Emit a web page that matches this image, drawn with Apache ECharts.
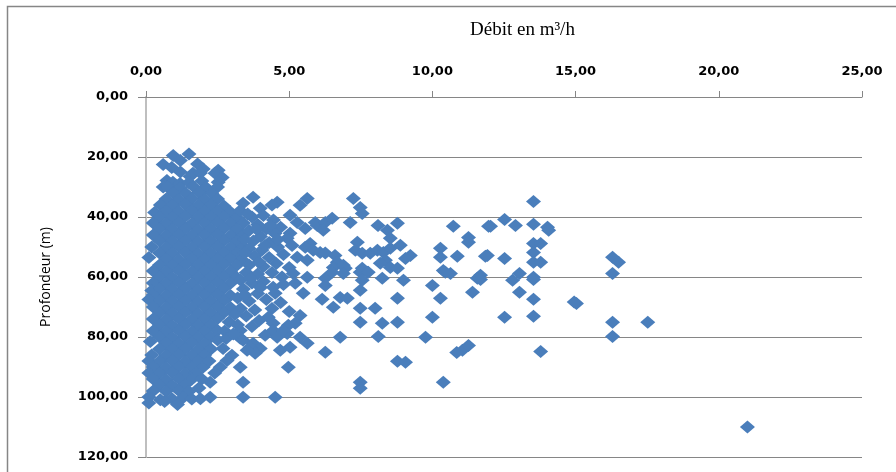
<!DOCTYPE html>
<html>
<head>
<meta charset="utf-8">
<script src="https://cdn.jsdelivr.net/npm/echarts@6/dist/echarts.min.js"></script>
<style>html,body{margin:0;padding:0;background:#fff}#c{width:896px;height:472px}</style>
</head>
<body>
<div id="c"></div>
<script>
// Axis settings / ticks
var xTicks = [0, 5, 10, 15, 20, 25];
var yTicks = [0, 20, 40, 60, 80, 100, 120];
var xTitle = 'Débit en m³/h';
var yTitle = 'Profondeur (m)';

// [débit (m3/h), profondeur (m)]
var topPoints = [[1.5,19],[0.95,19.5],[1.2,21.2],[0.6,22.5],[1.8,22.3],[0.9,23.5],[2.0,24],[2.52,24.4],[1.2,25],[2.41,25.4],[1.64,25.4],[1.54,26.5],[1.9,25.3],[2.66,26.8],[0.73,27.8],[0.94,28.4],[1.19,28.8],[2.52,28.4],[1.95,28],[1.5,28.5],[0.6,30],[2.0,31.1]];

var denseCore = [
[0.75,30],[1.2,30.3],[1.65,29.8],[2.1,30.2],[2.5,30],
[0.95,32],[1.4,32.2],[1.85,31.8],[2.3,32.1],
[0.7,34],[1.15,34.2],[1.6,33.8],[2.05,34.1],[2.5,34],
[0.5,36],[0.92,36.2],[1.37,35.8],[1.82,36.1],[2.27,36],[2.72,36.3],
[0.3,38.5],[0.7,38],[1.15,38.2],[1.6,37.9],[2.05,38.1],[2.5,38],[2.95,38.3],
[0.47,40],[0.92,40.2],[1.37,39.8],[1.82,40.1],[2.27,40],[2.72,39.9],[3.17,40.2],
[0.25,42],[0.7,42.1],[1.15,41.9],[1.6,42.2],[2.05,42],[2.5,41.8],[2.95,42.1],[3.4,42],
[0.47,44],[0.92,44.1],[1.37,43.9],[1.82,44.2],[2.27,44],[2.72,43.8],[3.17,44.1],
[0.25,46],[0.7,46.2],[1.15,45.9],[1.6,46.1],[2.05,46],[2.5,45.8],[2.95,46.2],[3.4,46],
[0.47,48],[0.92,48.1],[1.37,47.9],[1.82,48.2],[2.27,48],[2.72,47.9],[3.17,48.1],
[0.2,50],[0.7,50.2],[1.15,49.9],[1.6,50.1],[2.05,50],[2.5,49.8],[2.95,50.2],[3.4,50],
[0.47,52],[0.92,52.1],[1.37,51.8],[1.82,52.2],[2.27,52],[2.72,51.9],[3.17,52.1],
[0.1,53.5],[0.7,54],[1.15,54.2],[1.6,53.9],[2.05,54.1],[2.5,54],[2.95,53.8],[3.35,54.2],
[0.47,56],[0.92,56.2],[1.37,55.9],[1.82,56.1],[2.27,56],[2.72,55.8],[3.17,56.1],
[0.25,58],[0.7,58.1],[1.15,57.9],[1.6,58.2],[2.05,58],[2.5,57.9],[2.95,58.1],
[0.47,60],[0.92,60.2],[1.37,59.8],[1.82,60.1],[2.27,60],[2.72,59.9],[3.17,60.2],
[0.25,62],[0.7,62.1],[1.15,61.9],[1.6,62.2],[2.05,62],[2.5,61.8],[2.95,62.1],
[0.2,64.5],[0.47,64],[0.92,64.1],[1.37,63.9],[1.82,64.2],[2.27,64],[2.72,63.8],
[0.25,66],[0.7,66.2],[1.15,65.9],[1.6,66.1],[2.05,66],[2.5,65.8],[2.95,66.2],
[0.1,67.5],[0.47,68],[0.92,68.1],[1.37,67.9],[1.82,68.2],[2.27,68],[2.72,67.9],
[0.25,70],[0.7,70.2],[1.15,69.9],[1.6,70.1],[2.05,70],[2.5,69.8],[2.95,70.2],
[0.47,72],[0.92,72.1],[1.37,71.8],[1.82,72.2],[2.27,72],[2.72,71.9],
[0.25,74],[0.7,74.2],[1.15,73.9],[1.6,74.1],[2.05,74],[2.5,73.8],
[0.47,76],[0.92,76.2],[1.37,75.9],[1.82,76.1],[2.27,76],
[0.25,78],[0.7,78.1],[1.15,77.9],[1.6,78.2],[2.05,78],[2.5,77.8],
[0.47,80],[0.92,80.2],[1.37,79.8],[1.82,80.1],[2.27,80],
[0.15,81.5],[0.7,82],[1.15,82.1],[1.6,81.9],[2.05,82.2],
[0.47,84],[0.92,84.1],[1.37,83.9],[1.82,84.2],[2.27,84],
[0.2,86],[0.7,86.2],[1.15,85.9],[1.6,86.1],[2.05,86],
[0.1,88],[0.47,88.1],[0.92,87.9],[1.37,88.2],[1.82,88],
[0.25,90],[0.7,90.2],[1.15,89.9],[1.6,90.1],[2.0,90],
[0.1,92],[0.47,92.1],[0.92,91.8],[1.37,92.2],[1.75,92],
[0.25,94],[0.7,94.2],[1.15,93.9],[1.6,94.1],
[0.47,96],[0.92,96.2],[1.37,95.9],
[0.25,98],[0.7,98.1],[1.15,97.9],[1.5,98.2],
[0.1,100],[0.5,100.9],[0.9,100.5],[1.3,100.2],[1.6,100.7],[1.9,100.6],
[0.1,102],[0.65,101.5],[1.1,102.5]
];

var clusterFringe = [
[3.74,33.4],[3.39,35.4],[3.29,37.8],[3.99,37.1],[4.58,35.1],[4.4,36],[5.38,36.1],[5.63,33.8],[4.1,39.5],[3.7,40],[4.45,41],[3.9,42.5],[4.2,44],[4.7,43.4],[5.03,45.4],[5.56,43.8],[5.98,42.8],[5.03,39.4],[5.28,41.8],[5.91,41.8],[3.6,44.5],[4.0,46.5],[4.5,45.5],[4.93,47.1],[3.75,48],[4.3,48.5],
[3.6,50.5],[4.05,51],[4.6,50],[5.1,49.5],[5.73,48.8],[5.56,50.1],[5.84,51.1],[3.8,53],[4.3,53.5],[4.8,52.5],[5.28,53.4],[5.63,54.4],[3.6,56],[4.1,56.5],[4.55,55.5],[5.0,56.8],[3.5,58.5],[3.9,59],[4.4,58.5],[5.14,58.8],[4.75,60],[5.63,60.1],
[3.3,61],[3.7,62],[4.1,61.5],[4.44,63.4],[5.21,62.1],[5.49,65.4],[4.51,65.4],[3.4,64],[3.9,65.5],[3.2,67],[3.6,68],[4.2,67.5],[4.7,68.5],[3.3,70.5],[3.8,71],[4.4,70.5],[5.0,71.5],[3.5,73],[4.27,73.4],[4.44,75.4],[5.38,72.8],[5.21,75.4],[4.97,76.1],
[2.9,75],[3.2,76],[3.7,76.5],[2.75,78],[3.29,77.8],[4.16,79.4],[4.44,77.8],[4.93,78.8],[5.38,80.1],[5.63,82.1],[5.03,83.4],[4.58,80.1],[4.79,77.8],[3.29,80.4],[3.74,82.1],[3.99,83.8],[3.39,81.1],[3.64,83.4],[3.81,85.4],[3.53,84.4],[2.69,83.8],[3.0,86.1],[2.83,87.8],[2.59,90.1],[2.5,81],[2.8,80.5],[4.69,84.4],[4.97,90.1],[3.29,90.1],[3.39,95.1],[3.39,100.1],[4.51,100.1],[2.24,95.1],[2.24,100.1],[2.2,88],[2.4,92],[1.95,94],[1.85,97],
[3.55,39],[3.85,44],[4.35,42.8],[3.45,47.5],[4.15,49.5],[3.95,55],[3.45,52],[4.6,47.5],[3.65,60.5],[4.0,63.5],[3.45,66],[3.1,72.5],[3.95,74.5],[3.05,79],[4.8,62.5]
];

var midRange = [
[6.26,41.8],[6.5,40.4],[6.19,44.4],[7.24,33.8],[7.48,36.8],[7.55,38.8],[7.13,41.8],[8.1,42.8],[8.78,42.1],[8.43,44.4],[8.53,47.1],[10.73,43.1],[11.26,46.8],[11.26,48.4],[11.96,43.1],
[6.08,51.8],[6.26,52],[6.6,52.8],[6.68,55.1],[6.54,56.8],[6.89,56.1],[6.96,57.1],
[7.38,48.4],[7.31,51.1],[7.55,52.1],[7.83,52.1],[8.08,51.1],[8.29,51.8],[8.53,50.4],[8.88,49.4],[9.23,52.8],[9.06,53.8],[8.36,54.4],[8.53,56.8],[8.78,57.1],[8.18,55.4],
[10.28,50.4],[10.28,53.4],[10.87,53.1],[11.85,53.1],[10.38,57.8],[10.63,58.8],[7.55,57.1],[7.73,58.4],[11.68,59.4],
[6.26,60.4],[6.26,62.8],[6.15,67.4],[6.54,70.1],[6.78,66.8],[7.03,67.1],[6.5,58.4],[6.89,58.8],[7.48,58.4],[7.76,58.4],[7.55,61.1],[7.48,64.4],[8.25,60.4],[8.99,61.1],[8.78,67.1],[7.48,70.4],[8.0,70.4],[7.48,75.1],[8.25,75.4],[8.78,75.1],[10.0,62.8],[10.28,67.1],[10.0,73.4],[10.45,58.4],[11.57,60.4],[11.4,65.1],[6.78,80.1],[8.11,79.8],[9.76,80.1],[6.26,85.1],[8.78,88.1],[9.06,88.4],[7.48,95.1],[7.48,97.1],[10.38,95.1],[11.05,84.4],[11.26,82.8],[10.85,85.2]
];

var farRange = [
[13.53,34.8],[12.03,43.1],[12.52,40.8],[12.9,42.8],[13.53,42.4],[14.02,43.4],[14.06,44.4],[13.53,48.8],[13.78,48.8],[13.53,51.8],[13.53,55.1],[13.78,55.1],[11.92,52.8],[12.52,53.8],[11.68,60.8],[12.8,61.1],[13.04,58.8],[13.53,60.1],[13.53,60.8],[13.04,65.1],[13.53,67.4],[12.52,73.4],[13.53,73.1],[13.78,84.8],[15.03,68.8],[14.95,68.3],[16.29,53.4],[16.5,55.1],[16.29,58.8],[16.29,75.1],[16.29,79.8],[17.52,75.1],[21.0,110]
];

var allPoints = topPoints.concat(denseCore, clusterFringe, midRange, farRange);

function fr(v){ return v.toFixed(2).replace('.', ','); }

var chart = echarts.init(document.getElementById('c'), null, {renderer:'canvas'});
chart.setOption({
  animation: false,
  backgroundColor: '#ffffff',
  title: {
    text: xTitle,
    left: 465, top: 16,
    textStyle: {fontFamily: 'Liberation Serif', fontSize: 19, fontWeight: 'normal', color: '#000'}
  },
  graphic: [{
    type: 'rect', silent: true,
    shape: {x: 7.5, y: 6.5, width: 1000, height: 1000},
    style: {fill: 'none', stroke: '#868686', lineWidth: 1.5}
  }],
  grid: {left: 146, top: 97, width: 716, height: 360, containLabel: false},
  xAxis: {
    type: 'value', position: 'top',
    min: xTicks[0], max: xTicks[xTicks.length-1], interval: 5,
    axisLine: {show: true, lineStyle: {color: '#868686', width: 1}},
    axisTick: {show: true, inside: false, length: 6, lineStyle: {color: '#868686'}},
    splitLine: {show: false},
    axisLabel: {formatter: fr, margin: 19, fontFamily: 'DejaVu Sans', fontWeight: 'bold', fontSize: 13, color: '#000'}
  },
  yAxis: {
    type: 'value', inverse: true,
    min: yTicks[0], max: yTicks[yTicks.length-1], interval: 20,
    name: yTitle, nameLocation: 'middle', nameRotate: 90, nameGap: 93,
    nameTextStyle: {fontFamily: 'Open Sans', fontSize: 14, color: '#000'},
    axisLine: {show: true, lineStyle: {color: '#BFBFBF', width: 2}},
    axisTick: {show: true, inside: false, length: 8, lineStyle: {color: '#868686'}},
    splitLine: {show: true, lineStyle: {color: '#868686', width: 1}},
    axisLabel: {formatter: fr, margin: 18, fontFamily: 'DejaVu Sans', fontWeight: 'bold', fontSize: 13, color: '#000'}
  },
  series: [{
    type: 'scatter',
    symbol: 'diamond',
    symbolSize: [15, 13],
    itemStyle: {color: '#4A7EBB', opacity: 1, borderWidth: 0},
    data: allPoints
  }]
});
</script>
</body>
</html>
